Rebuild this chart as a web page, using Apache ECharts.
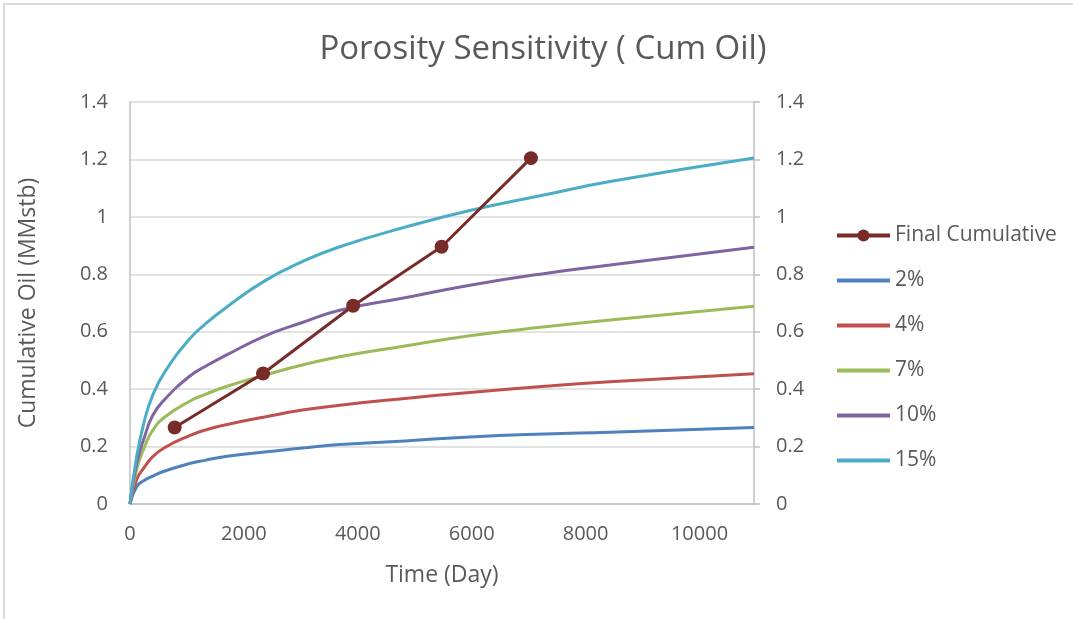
<!DOCTYPE html>
<html>
<head>
<meta charset="utf-8">
<script src="https://cdn.jsdelivr.net/npm/echarts@6/dist/echarts.min.js"></script>
<style>html,body{margin:0;padding:0;background:#fff;}#c{width:1073px;height:619px;}</style>
</head>
<body>
<div id="c"></div>
<script>
// Time (days) sample points for the porosity curves
const timeDays = [0, 116, 256, 400, 612, 1047, 1311, 1706, 2365, 3025, 3683, 4826, 5968, 7287, 8429, 10957];
const phi2  = [0, 0.060, 0.083, 0.097, 0.115, 0.141, 0.152, 0.166, 0.181, 0.195, 0.207, 0.2197, 0.2337, 0.244, 0.250, 0.2664];
const phi4  = [0, 0.085, 0.129, 0.165, 0.197, 0.238, 0.257, 0.277, 0.303, 0.327, 0.344, 0.3675, 0.3885, 0.410, 0.4256, 0.4534];
const phi7  = [0, 0.120, 0.199, 0.257, 0.303, 0.358, 0.381, 0.410, 0.449, 0.484, 0.513, 0.550, 0.586, 0.617, 0.641, 0.689];
const phi10 = [0, 0.140, 0.234, 0.309, 0.365, 0.445, 0.478, 0.520, 0.585, 0.632, 0.675, 0.718, 0.762, 0.803, 0.832, 0.894];
const phi15 = [0, 0.164, 0.292, 0.379, 0.460, 0.575, 0.625, 0.687, 0.777, 0.844, 0.896, 0.964, 1.022, 1.077, 1.123, 1.205];
// Final cumulative points
const finalTime = [784, 2336, 3918, 5471, 7040];
const finalCum  = [0.2665, 0.4547, 0.6905, 0.896, 1.2045];
const seriesNames = ['Final Cumulative', '2%', '4%', '7%', '10%', '15%'];

const pair = (xs, ys) => xs.map((x, i) => [x, ys[i]]);
const txt = '#595959';
const font = 'Open Sans';
const barIcon = 'path://M0,0H100V8H0Z';

const curve = (name, ys, color) => ({
  name, type: 'line', data: pair(timeDays, ys), smooth: 0.5,
  showSymbol: false, symbol: 'none',
  lineStyle: { color, width: 3 }, itemStyle: { color }, z: 2
});

const chart = echarts.init(document.getElementById('c'), null, { renderer: 'canvas' });
chart.setOption({
  animation: false,
  backgroundColor: '#fff',
  textStyle: { fontFamily: font, color: txt },
  title: {
    text: 'Porosity Sensitivity ( Cum Oil)',
    left: 538, top: 28, textAlign: 'center',
    textStyle: { fontFamily: font, fontSize: 33, fontWeight: 'normal', color: txt }
  },
  graphic: [{
    type: 'rect', shape: { x: 4, y: 4, width: 1100, height: 700 },
    style: { fill: 'none', stroke: '#d9d9d9', lineWidth: 2 }, silent: true, z: -1
  }],
  legend: {
    orient: 'vertical', left: 835, top: 225, padding: 0,
    itemWidth: 53, itemHeight: 15, itemGap: 24,
    data: seriesNames.map((n, i) => i === 0
      ? { name: n, lineStyle: { width: 4 } }
      : { name: n, icon: barIcon }),
    textStyle: { fontFamily: font, fontSize: 21, color: txt }
  },
  grid: { left: 130, top: 102, right: 319, bottom: 115, containLabel: false },
  xAxis: {
    type: 'value', min: 0, max: 10957, interval: 2000,
    name: 'Time (Day)', nameLocation: 'middle', nameGap: 60,
    nameTextStyle: { fontFamily: font, fontSize: 23, color: txt },
    axisLine: { show: true, lineStyle: { color: '#bfbfbf', width: 1.5 } },
    axisTick: { show: false },
    axisLabel: { fontFamily: font, fontSize: 20, color: txt, margin: 20, showMaxLabel: false,
                 formatter: v => String(v) },
    splitLine: { show: false }
  },
  yAxis: [{
    type: 'value', min: 0, max: 1.4, interval: 0.2, position: 'left',
    name: 'Cumulative Oil (MMstb)', nameLocation: 'middle', nameGap: 90,
    nameTextStyle: { fontFamily: font, fontSize: 23, color: txt },
    axisLine: { show: true, lineStyle: { color: '#bfbfbf', width: 1.5 } },
    axisTick: { show: false },
    axisLabel: { fontFamily: font, fontSize: 20, color: txt, margin: 22 },
    splitLine: { show: true, lineStyle: { color: '#d9d9d9', width: 1.5 } }
  }, {
    type: 'value', min: 0, max: 1.4, interval: 0.2, position: 'right',
    axisLine: { show: true, lineStyle: { color: '#bfbfbf', width: 1.5 } },
    axisTick: { show: true, inside: false, length: 6, lineStyle: { color: '#bfbfbf', width: 1.5 } },
    axisLabel: { fontFamily: font, fontSize: 20, color: txt, margin: 22 },
    splitLine: { show: false }
  }],
  series: [
    {
      name: 'Final Cumulative', type: 'line', data: pair(finalTime, finalCum),
      symbol: 'circle', symbolSize: 14, showSymbol: true,
      lineStyle: { color: '#772C2A', width: 3 }, itemStyle: { color: '#772C2A' }, z: 5
    },
    curve('2%', phi2, '#4F81BD'),
    curve('4%', phi4, '#C0504D'),
    curve('7%', phi7, '#9BBB59'),
    curve('10%', phi10, '#8064A2'),
    curve('15%', phi15, '#4BACC6')
  ]
});
</script>
</body>
</html>
